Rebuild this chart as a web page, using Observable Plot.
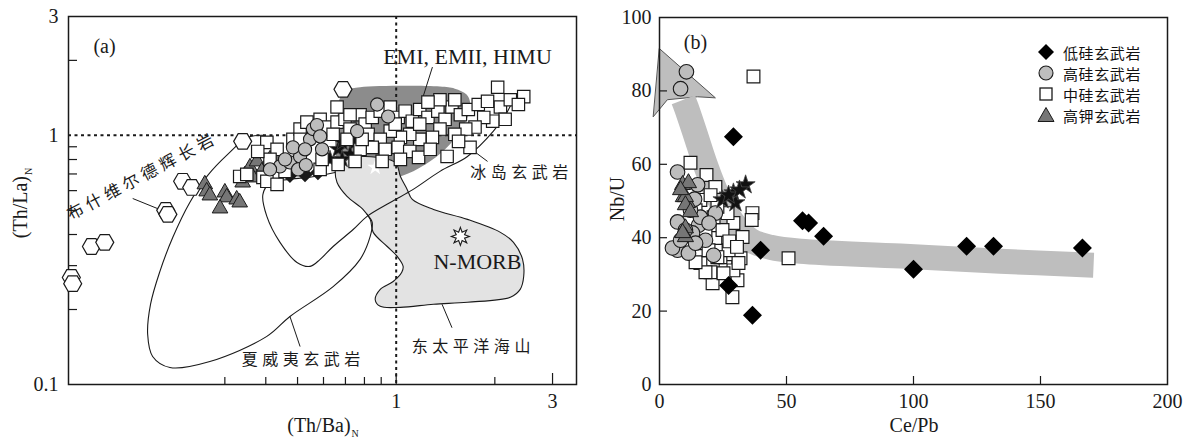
<!DOCTYPE html>
<html><head><meta charset="utf-8">
<script src="https://cdn.jsdelivr.net/npm/d3@7"></script>
<script src="https://cdn.jsdelivr.net/npm/@observablehq/plot@0.6"></script>
<style>
html,body{margin:0;padding:0;background:#fff}
#wrap{position:relative;width:1188px;height:440px;overflow:hidden;background:#fff;color:#1a1a1a;font-family:"Liberation Serif",serif}
.pane{position:absolute;top:0;width:594px;height:440px}
.lab{position:absolute;font-size:20px;line-height:20px;white-space:nowrap}
.lab sub{font-size:10px;line-height:0;vertical-align:-5px;margin-left:1px}
.row{position:absolute;left:1037px;height:20px;display:flex;align-items:center;font-family:"Noto Sans CJK SC",sans-serif;font-size:15px;letter-spacing:0.6px;color:#111}
.row svg{margin-right:8px;flex:none}
</style></head><body>
<div id="wrap">
<div id="pa" class="pane" style="left:0"></div>
<div id="pb" class="pane" style="left:594px"></div>
<div class="lab" style="left:323px;top:425px;transform:translate(-50%,-50%)">(Th/Ba)<sub>N</sub></div>
<div class="lab" style="left:20px;top:203px;transform:translate(-50%,-50%) rotate(-90deg)">(Th/La)<sub>N</sub></div>
<div class="lab" style="left:617px;top:199px;transform:translate(-50%,-50%) rotate(-90deg)">Nb/U</div>
<div class="lab" style="left:914px;top:425px;transform:translate(-50%,-50%)">Ce/Pb</div>
<div id="legend"></div>
</div>
<script>
// ---------- Panel (a) data: (Th/Ba)N , (Th/La)N ----------
const emField = [[0.665,1.25],[0.674,1.42],[0.708,1.52],[0.776,1.56],[1.36,1.57],[1.51,1.54],[1.64,1.46],[1.68,1.36],[1.66,1.21],[1.57,1.04],[1.41,0.879],[1.23,0.765],[1.03,0.684],[0.863,0.666],[0.723,0.678],[0.665,0.765],[0.651,0.964]];
const enprField = [[0.660,0.801],[0.804,0.823],[0.993,0.779],[1.03,0.684],[1.08,0.607],[1.12,0.553],[1.30,0.504],[1.65,0.460],[2.08,0.408],[2.28,0.372],[2.43,0.318],[2.45,0.272],[2.39,0.241],[2.23,0.224],[1.65,0.214],[1.30,0.210],[1.03,0.204],[0.894,0.206],[0.863,0.219],[0.894,0.241],[0.979,0.259],[1.04,0.282],[1.05,0.298],[1.007,0.327],[0.939,0.358],[0.851,0.408],[0.833,0.460],[0.793,0.504],[0.708,0.569],[0.660,0.647],[0.651,0.730]];
const hawaiiOuter = [[0.395,1.0],[0.353,0.982],[0.306,0.839],[0.266,0.691],[0.2345,0.538],[0.208,0.389],[0.190,0.284],[0.178,0.210],[0.1744,0.159],[0.1806,0.1296],[0.204,0.117],[0.270,0.1237],[0.403,0.156],[0.474,0.1875],[0.642,0.247],[0.776,0.318],[0.833,0.393],[0.845,0.447],[0.815,0.482]];
const innerLine = [[0.651,0.710],[0.565,0.684],[0.474,0.666],[0.412,0.642],[0.392,0.580],[0.403,0.473],[0.442,0.372],[0.498,0.309],[0.546,0.298],[0.586,0.318],[0.642,0.358],[0.739,0.419],[0.815,0.473],[0.959,0.538],[1.127,0.607],[1.36,0.717],[1.65,0.823],[1.98,1.04],[2.18,1.24],[2.26,1.36]];
const leadersA = [[0.157,0.558,0.190,0.504],[1.29,1.88,1.20,1.39],[1.73,0.862,1.90,0.786],[1.38,0.210,1.48,0.169],[0.474,0.1875,0.509,0.142]];
const hexA = [[0.688,1.53],[0.340,0.946],[0.223,0.654],[0.2377,0.618],[0.198,0.500],[0.201,0.482],[0.1175,0.358],[0.129,0.372],[0.102,0.269],[0.103,0.254]];
const triA = [[0.2606,0.636],[0.264,0.596],[0.270,0.574],[0.300,0.590],[0.304,0.564],[0.326,0.553],[0.290,0.509],[0.333,0.538],[0.340,0.647],[0.345,0.691],[0.358,0.744],[0.376,0.786],[0.389,0.717],[0.412,0.801],[0.442,0.823],[0.365,0.678]];
const diaA = [[0.474,0.691],[0.527,0.697],[0.577,0.710]];
const starA = [[0.628,0.801],[0.665,0.879],[0.684,0.937],[0.749,0.937],[0.723,0.839],[0.684,0.801]];
const whiteStarA = [[0.863,0.744]];
const sqA = [[0.333,0.684],[0.350,0.697],[0.392,0.678],[0.403,0.654],[0.433,0.636],[0.403,0.937],[0.433,0.879],[0.412,0.801],[0.378,0.862],[0.484,0.964],[0.509,1.06],[0.534,1.13],[0.586,1.16],[0.620,1.08],[0.660,1.13],[0.642,1.01],[0.698,1.16],[0.723,1.06],[0.776,1.21],[0.804,1.11],[0.845,1.18],[0.894,1.25],[0.821,1.01],[0.959,1.30],[1.014,1.18],[1.065,1.25],[1.12,1.14],[1.18,1.27],[1.25,1.18],[1.34,1.25],[1.41,1.16],[1.48,1.30],[1.57,1.21],[1.66,1.27],[1.78,1.33],[1.90,1.37],[2.04,1.56],[2.08,1.30],[2.23,1.39],[2.45,1.43],[2.36,1.33],[2.15,1.16],[1.97,1.14],[1.85,1.18],[1.74,1.08],[1.63,1.06],[1.51,1.01],[1.36,1.06],[1.29,0.982],[1.18,0.964],[1.10,1.01],[1.03,0.982],[0.959,1.04],[0.894,0.964],[0.845,0.895],[0.776,0.879],[0.926,0.879],[1.014,0.895],[1.10,0.862],[1.17,0.816],[1.27,0.879],[1.43,0.823],[1.68,0.895],[1.55,0.946],[1.03,0.801],[0.906,0.786],[0.749,0.786],[0.586,0.730],[0.594,0.801],[0.708,0.964],[0.787,0.964],[0.509,0.964],[0.458,0.717],[0.665,0.765],[1.18,1.11],[0.993,1.11],[1.36,1.39],[1.51,1.39],[1.25,1.36],[0.723,1.21],[0.660,1.30]];
const circA = [[0.442,0.751],[0.474,0.779],[0.509,0.823],[0.484,0.895],[0.546,0.964],[0.557,1.06],[0.573,1.10],[0.594,0.879],[0.458,0.801],[0.527,0.879],[0.586,0.991],[0.760,1.04],[0.875,1.33],[0.945,1.19],[0.502,0.730],[0.412,0.730],[0.530,0.760]];
const nmorbA = [[1.57,0.393]];
const serifLabelsA = [{x:1.65,y:2.06,t:"EMI, EMII, HIMU"},{x:1.77,y:0.309,t:"N-MORB"}];
const cjkLabelsA = [{x:2.41,y:0.71,t:"冰岛玄武岩"},{x:1.72,y:0.142,t:"东太平洋海山"},{x:0.520,y:0.126,t:"夏威夷玄武岩"}];
const bushveldLabel = [{x:0.168,y:0.684,t:"布什维尔德辉长岩"}];
const xMinorA = [0.3,0.4,0.5,0.6,0.7,0.8,0.9,2];
const xMajorA = [1,3];
const yMinorA = [0.2,0.3,0.4,0.5,0.6,0.7,0.8,0.9,2];
const xLabelA = [1,3];
const yLabelA = [0.1,1,3];

// ---------- Panel (b) data: Ce/Pb , Nb/U ----------
const bandB = [[9.4,77.6],[10.6,75.4],[14.2,68.0],[18.1,59.8],[22.8,51.6],[28.7,44.3],[35.8,39.3],[43.7,37.4],[55.5,36.3],[94.9,35.0],[134.2,33.6],[170.9,32.5]];
const arrowHeadB = [[0,91.5],[22.0,78.1],[15.0,78.4],[3.1,77.6],[-2.4,73.0]];
const sqB = [[12.2,60.4],[18.5,57.1],[22.0,53.8],[37.0,83.9],[36.6,46.7],[36.3,44.8],[50.8,34.4],[32.7,40.2],[31.9,34.4],[28.7,23.8],[20.9,27.6],[30.7,28.4],[20.1,30.6],[26.0,32.0],[29.1,31.1],[24.0,34.7],[16.1,33.1],[27.2,36.6],[22.0,39.9],[29.1,44.0],[26.8,46.7],[22.8,48.4],[31.1,33.1],[25.2,30.3],[18.1,30.6],[24.8,42.1],[18.1,42.1],[21.3,45.6],[16.9,38.5],[22.8,34.7],[14.2,33.3],[19.3,36.6],[16.1,50.3],[14.2,47.5],[20.1,51.6],[27.5,39.0],[30.5,37.5]];
const circB = [[10.6,85.2],[8.3,80.6],[7.1,57.9],[15.0,54.4],[7.1,44.3],[15.4,43.4],[7.1,36.6],[11.4,35.8],[21.3,35.2],[13.0,41.3],[16.1,45.6],[22.0,46.7],[5.1,37.2],[8.3,39.3],[18.1,39.3],[12.2,47.5],[10.2,42.1],[13.8,50.5],[19.5,44.0],[14.2,38.5]];
const triB = [[9.1,54.4],[11.4,54.9],[9.4,51.1],[11.0,49.5],[10.2,51.1],[10.2,48.9],[10.2,42.6],[10.2,40.2],[9.1,41.3],[12.2,47.0],[8.3,53.0]];
const diaB = [[29.1,67.5],[56.3,44.6],[58.7,44.0],[64.6,40.4],[39.8,36.6],[36.6,18.9],[27.2,27.0],[100,31.4],[120.9,37.7],[131.5,37.7],[166.5,37.2]];
const starB = [[33.9,54.4],[29.1,52.2],[24.8,50.3],[29.9,49.5],[27.2,51.6],[31.5,53.0]];
const xMinorB = [50,100,150];
const yMinorB = [20,40,60,80];
const xLabelB = [0,50,100,150,200];
const yLabelB = [0,20,40,60,80,100];
const legendNames = ["低硅玄武岩","高硅玄武岩","中硅玄武岩","高钾玄武岩"];

// ---------- drawing ----------
const X = d => d[0], Y = d => d[1];
const ink = "#1a1a1a";
const hexFlat = {draw(c, s){const r=Math.sqrt(s/Math.PI); for(let i=0;i<6;i++){const a=i*Math.PI/3, px=r*Math.cos(a), py=r*Math.sin(a); if(i) c.lineTo(px,py); else c.moveTo(px,py);} c.closePath();}};
const star8 = {draw(c, s){const r=Math.sqrt(s/Math.PI), q=r*0.5; for(let i=0;i<16;i++){const a=i*Math.PI/8-Math.PI/2, rr=i%2?q:r, px=rr*Math.cos(a), py=rr*Math.sin(a); if(i) c.lineTo(px,py); else c.moveTo(px,py);} c.closePath();}};
const baseStyle = {fontFamily:'"Liberation Serif", serif', fontSize:"20px", color:ink, background:"white", overflow:"visible"};
const cjk = '"Noto Sans CJK SC", sans-serif';

const plotA = Plot.plot({
  width:594, height:440, marginLeft:68, marginRight:18, marginTop:16, marginBottom:56,
  x:{type:"log", domain:[0.1,3.55]},
  y:{type:"log", domain:[0.1,3]},
  style: baseStyle,
  marks:[
    Plot.line(emField,{x:X,y:Y,curve:"catmull-rom-closed",fill:"#8c8c8c",stroke:"none"}),
    Plot.line(enprField,{x:X,y:Y,curve:"catmull-rom-closed",fill:"#e3e3e3",stroke:ink,strokeWidth:1.1}),
    Plot.line(hawaiiOuter,{x:X,y:Y,curve:"catmull-rom",stroke:ink,strokeWidth:1.1}),
    Plot.line(innerLine,{x:X,y:Y,curve:"catmull-rom",stroke:ink,strokeWidth:1.1}),
    Plot.link(leadersA,{x1:d=>d[0],y1:d=>d[1],x2:d=>d[2],y2:d=>d[3],stroke:ink,strokeWidth:1}),
    Plot.ruleY([1],{y:d=>d,stroke:ink,strokeWidth:2,strokeDasharray:"3,3.5"}),
    Plot.ruleX([1],{x:d=>d,stroke:ink,strokeWidth:2,strokeDasharray:"3,3.5"}),
    Plot.ruleX(xMinorA,{x:d=>d,insetTop:361,stroke:ink,strokeWidth:1.2}),
    Plot.ruleX(xMajorA,{x:d=>d,insetTop:357,stroke:ink,strokeWidth:1.2}),
    Plot.ruleY(yMinorA,{y:d=>d,insetRight:499,stroke:ink,strokeWidth:1.2}),
    Plot.frame({stroke:ink,strokeWidth:1.5}),
    Plot.axisX({ticks:xLabelA,tickSize:0,tickPadding:9,tickFormat:d=>String(d),label:null}),
    Plot.axisY({ticks:yLabelA,tickSize:0,tickPadding:10,tickFormat:d=>String(d),label:null}),
    Plot.text(serifLabelsA,{x:"x",y:"y",text:"t",fontSize:22}),
    Plot.text(cjkLabelsA,{x:"x",y:"y",text:"t",fontSize:16,fontFamily:cjk}),
    Plot.text(bushveldLabel,{x:"x",y:"y",text:"t",fontSize:16.5,fontFamily:cjk,rotate:-28}),
    Plot.dot(nmorbA,{x:X,y:Y,symbol:star8,r:9,fill:"white",stroke:ink,strokeWidth:1.1}),
    Plot.text(["(a)"],{text:d=>d,frameAnchor:"top-left",dx:36,dy:30,textAnchor:"middle",lineAnchor:"middle",fontSize:20}),
    Plot.dot(hexA,{x:X,y:Y,symbol:hexFlat,r:9,fill:"white",stroke:ink,strokeWidth:1.2}),
    Plot.dot(triA,{x:X,y:Y,symbol:"triangle",r:5.8,fill:"#767676",stroke:ink,strokeWidth:1}),
    Plot.dot(diaA,{x:X,y:Y,symbol:"diamond2",r:6,fill:ink,stroke:ink}),
    Plot.dot(starA,{x:X,y:Y,symbol:"star",r:5.5,fill:"#111",stroke:"#444",strokeWidth:0.8}),
    Plot.dot(whiteStarA,{x:X,y:Y,symbol:"star",r:5,fill:"white",stroke:"none"}),
    Plot.dot(sqA,{x:X,y:Y,symbol:"square",r:7,fill:"white",stroke:ink,strokeWidth:1.2}),
    Plot.dot(circA,{x:X,y:Y,symbol:"circle",r:6.6,fill:"#bdbdbd",stroke:ink,strokeWidth:1.1})
  ]
});

const plotB = Plot.plot({
  width:594, height:440, marginLeft:65, marginRight:21, marginTop:17, marginBottom:56,
  x:{domain:[0,200]},
  y:{domain:[0,100]},
  style: baseStyle,
  marks:[
    Plot.line(arrowHeadB,{x:X,y:Y,curve:"linear-closed",fill:"#bebebe",stroke:"#555",strokeWidth:1}),
    Plot.line(bandB,{x:X,y:Y,curve:"catmull-rom",stroke:"#bebebe",strokeWidth:25,strokeLinecap:"butt",strokeLinejoin:"round"}),
    Plot.ruleX(xMinorB,{x:d=>d,insetTop:359,stroke:ink,strokeWidth:1.2}),
    Plot.ruleY(yMinorB,{y:d=>d,insetRight:500,stroke:ink,strokeWidth:1.2}),
    Plot.frame({stroke:ink,strokeWidth:1.5}),
    Plot.axisX({ticks:xLabelB,tickSize:0,tickPadding:9,tickFormat:d=>String(d),label:null}),
    Plot.axisY({ticks:yLabelB,tickSize:0,tickPadding:8,tickFormat:d=>String(d),label:null}),
    Plot.text(["(b)"],{text:d=>d,frameAnchor:"top-left",dx:36,dy:25,textAnchor:"middle",lineAnchor:"middle",fontSize:20}),
    Plot.dot(sqB,{x:X,y:Y,symbol:"square",r:7.2,fill:"white",stroke:ink,strokeWidth:1.2}),
    Plot.dot(circB,{x:X,y:Y,symbol:"circle",r:7.3,fill:"#bdbdbd",stroke:ink,strokeWidth:1.1}),
    Plot.dot(triB,{x:X,y:Y,symbol:"triangle",r:6,fill:"#767676",stroke:ink,strokeWidth:1}),
    Plot.dot(diaB,{x:X,y:Y,symbol:"diamond2",r:7.6,fill:"#000",stroke:"#000"}),
    Plot.dot(starB,{x:X,y:Y,symbol:"star",r:6,fill:"#111",stroke:"#444",strokeWidth:0.8})
  ]
});

document.getElementById("pa").appendChild(plotA);
document.getElementById("pb").appendChild(plotB);

// letter spacing for Chinese labels
d3.select(plotA).selectAll("text").each(function(){
  if (/[\u4e00-\u9fff]/.test(this.textContent)) this.setAttribute("letter-spacing", "4.5");
});

// legend (panel b)
const icons = [
  '<polygon points="9,1 17,9 9,17 1,9" fill="#000"/>',
  '<circle cx="9" cy="9" r="7" fill="#bdbdbd" stroke="#1a1a1a" stroke-width="1.1"/>',
  '<rect x="3" y="3" width="12" height="12" fill="white" stroke="#1a1a1a" stroke-width="1.3"/>',
  '<polygon points="9,1.5 17,15.5 1,15.5" fill="#767676" stroke="#1a1a1a" stroke-width="1"/>'
];
const leg = document.getElementById("legend");
legendNames.forEach((name, i) => {
  const row = document.createElement("div");
  row.className = "row";
  row.style.top = (42 + i * 21) + "px";
  row.innerHTML = '<svg width="18" height="18" viewBox="0 0 18 18">' + icons[i] + '</svg><span>' + name + '</span>';
  leg.appendChild(row);
});
</script>
</body></html>
